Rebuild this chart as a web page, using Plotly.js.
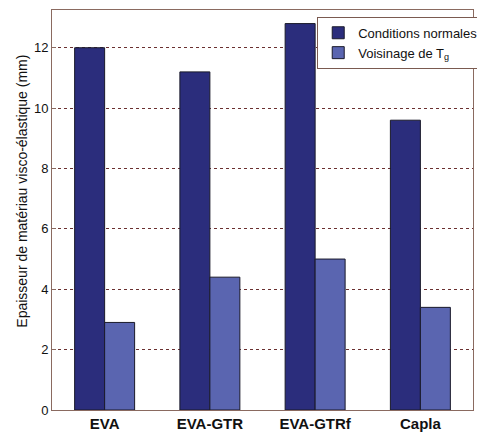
<!DOCTYPE html>
<html>
<head>
<meta charset="utf-8">
<script src="https://cdn.plot.ly/plotly-3.0.1.min.js"></script>
<style>html,body{margin:0;padding:0;background:#fff;overflow:hidden;}#chart{width:477px;height:436px;}</style>
</head>
<body>
<div id="chart"></div>
<script>
const categories = ["EVA", "EVA-GTR", "EVA-GTRf", "Capla"];
const normalValues = [12.0, 11.2, 12.8, 9.6];
const tgValues = [2.9, 4.4, 5.0, 3.4];
const seriesNames = ["Conditions normales", "Voisinage de T<sub>g</sub>"];
const yTicks = [0, 2, 4, 6, 8, 10, 12];
const yTitle = "Epaisseur de matériau visco-élastique (mm)";

const traces = [
  {type: "bar", x: categories, y: normalValues, name: seriesNames[0],
   marker: {color: "#2b2d7c", line: {color: "#1a1a2a", width: 1}}},
  {type: "bar", x: categories, y: tgValues, name: seriesNames[1],
   marker: {color: "#5a65b0", line: {color: "#1a1a2a", width: 1}}}
];

const layout = {
  width: 477, height: 436,
  margin: {l: 52, r: 4, t: 10, b: 26, autoexpand: false},
  paper_bgcolor: "#ffffff", plot_bgcolor: "#ffffff",
  barmode: "group", bargap: 0.43, bargroupgap: 0,
  font: {family: "Liberation Sans, Arial, sans-serif", color: "#111"},
  showlegend: true,
  legend: {x: 0.63, y: 0.983, xanchor: "left", yanchor: "top",
    bgcolor: "#ffffff", bordercolor: "#7a5a50", borderwidth: 1,
    font: {size: 13, color: "#111"}, tracegroupgap: 0, itemwidth: 30},
  xaxis: {type: "category", range: [-0.5, 3.5], showgrid: false,
    showline: true, linecolor: "#8a6a60", linewidth: 1, mirror: true,
    ticks: "", tickfont: {size: 15, family: "Liberation Sans, Arial, sans-serif", weight: "bold", color: "#111"},
    fixedrange: true},
  yaxis: {range: [0, 13.25], tickvals: yTicks, ticktext: yTicks.map(String),
    showgrid: true, gridcolor: "#6a3030", griddash: "dot", gridwidth: 1,
    showline: true, linecolor: "#8a6a60", linewidth: 1, mirror: true,
    ticks: "inside", ticklen: 4, tickcolor: "#8a6a60", zeroline: false,
    tickfont: {size: 13, color: "#111"}},
  annotations: [{text: yTitle, textangle: -90, showarrow: false,
    xref: "paper", yref: "paper", x: -0.072, y: 0.5475, xanchor: "center", yanchor: "middle",
    font: {size: 14, color: "#111"}}]
};

Plotly.newPlot("chart", traces, layout, {displayModeBar: false, staticPlot: true});
</script>
</body>
</html>
